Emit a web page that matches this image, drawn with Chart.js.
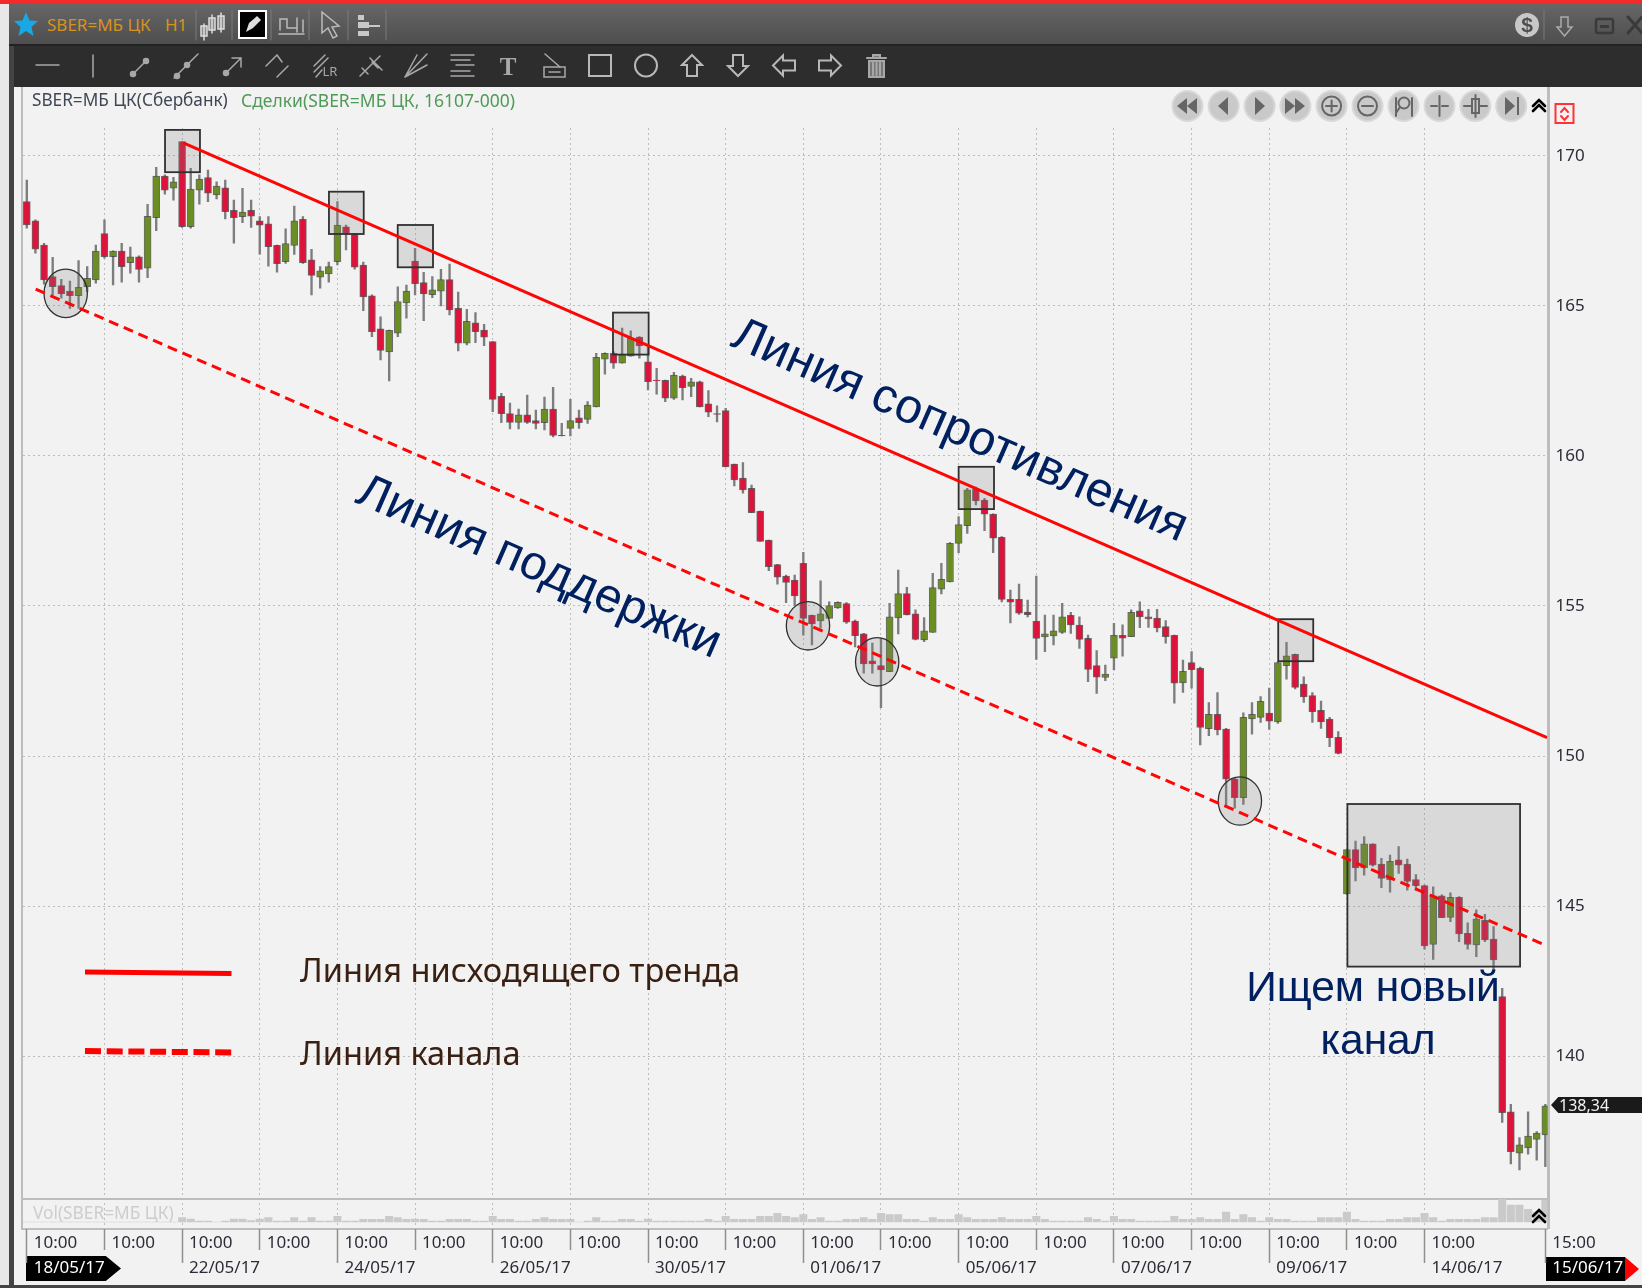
<!DOCTYPE html>
<html lang="ru"><head><meta charset="utf-8"><title>SBER</title>
<script src="https://cdn.jsdelivr.net/npm/chart.js@4"></script>
<style>
html,body{margin:0;padding:0;width:1642px;height:1288px;overflow:hidden;background:#f2f2f2}
.abs{position:absolute}
#stage{position:absolute;left:0;top:0;width:1642px;height:1288px;overflow:hidden;font-family:"Noto Sans",sans-serif}
canvas{position:absolute;left:0;top:0}
.note{position:absolute;white-space:nowrap;font-family:"Liberation Sans",Arial,sans-serif;color:#002060;transform-origin:center}
.rot{transform:translate(-50%,-50%) rotate(23.6deg)}
.legend{position:absolute;white-space:nowrap;font-family:"Noto Sans",sans-serif;color:#3a2012;font-size:32.6px;line-height:40px}
</style></head><body>
<div id="stage">
  <div class="abs" style="left:0;top:0;width:9px;height:1288px;background:#e8e8e8"></div>
  <div class="abs" style="left:9px;top:4px;width:5px;height:1284px;background:#444"></div>
  <div class="abs" style="left:21px;top:87px;width:2px;height:1142px;background:#bdbdbd"></div>
  <div class="abs" style="left:1547px;top:87px;width:3px;height:1142px;background:#bdbdbd"></div>
  <div class="abs" style="left:21px;top:1198px;width:1527px;height:2px;background:#bdbdbd"></div>
  <div class="abs" style="left:21px;top:1228px;width:1527px;height:2px;background:#bdbdbd"></div>
  <div class="abs" style="left:0;top:1285px;width:1642px;height:3px;background:#444"></div>
  <!-- date and price tags under the canvas -->
  <div class="abs" style="left:26px;top:1256px;width:95px;height:25px;background:#000;clip-path:polygon(0 0,84% 0,100% 50%,84% 100%,0 100%)"></div>
  <div class="abs" style="left:1546px;top:1257px;width:79px;height:24px;background:#000"></div>
  <div class="abs" style="left:1625px;top:1257px;width:14px;height:24px;background:#f00;clip-path:polygon(0 0,100% 50%,0 100%)"></div>
  <div class="abs" style="left:1551px;top:1097px;width:91px;height:16px;background:#1a1a1a;clip-path:polygon(8% 0,100% 0,100% 100%,8% 100%,0 50%)"></div>
  <canvas id="chart" width="1642" height="1288"></canvas>

  <!-- window chrome -->
  <div class="abs" style="left:0;top:0;width:1642px;height:4px;background:#f22a2a"></div>
  <div class="abs" style="left:9px;top:4px;width:1633px;height:40px;background:linear-gradient(#666,#4e4e4e)"></div>
  <div class="abs" style="left:9px;top:44px;width:1633px;height:2px;background:#222"></div>
  <div class="abs" style="left:14px;top:46px;width:1628px;height:41px;background:#2d2d2d"></div>
  <div class="abs" style="left:47px;top:12px;font-size:17px;line-height:26px;color:#d8921e">SBER=МБ ЦК</div>
  <div class="abs" style="left:165px;top:12px;font-size:17px;line-height:26px;color:#d8921e">H1</div>
  <div class="abs" style="left:32px;top:88px;font-size:17.2px;line-height:24px;color:#3f4654">SBER=МБ ЦК(Сбербанк)</div>
  <div class="abs" style="left:241px;top:88px;font-size:17.5px;line-height:24px;color:#4f9a57">Сделки(SBER=МБ ЦК, 16107-000)</div>
  <div class="abs" style="left:33px;top:1201px;font-size:17.3px;line-height:24px;color:#cdcdcd">Vol(SBER=МБ ЦК)</div>
  <div class="abs" id="lastTag" style="left:1559px;top:1094px;font-size:16px;line-height:22px;color:#f2f2f2"></div>

  <svg class="abs" style="left:0;top:0" width="1642" height="1288" fill="none" stroke-linecap="round">
    <polygon points="26,12 29.5,20.5 38,21 31.5,27 33.5,36 26,31 18.5,36 20.5,27 14,21 22.5,20.5" fill="#18a8e6"/>
    <g stroke="#7a7a7a" stroke-width="1"><path d="M196 10V40M232 10V40M271 10V40M309 10V40M348 10V40M386 10V40M1544 10V40"/></g>
    <g stroke="#ddd" stroke-width="1.5" fill="#8d8d8d">
      <rect x="201" y="26" width="6" height="10"/><rect x="209" y="18" width="6" height="12"/><rect x="218" y="16" width="6" height="13"/>
      <path d="M204 24V40M212 15V33M221 13V32"/></g>
    <rect x="239" y="11" width="27" height="27" fill="#000" stroke="#fff" stroke-width="2"/>
    <path d="M246 32l3-9 8-7 4 4-8 8z" fill="#ddd"/>
    <g stroke="#bbb" stroke-width="1.5"><path d="M279 34H304M280 30V19H287V28M288 28H297V32M297 28V18M303 20V32"/></g>
    <path d="M322 12L322 33 328 28 333 38 337 36 332 27 339 26Z" stroke="#bbb" stroke-width="1.5"/>
    <g fill="#c8c8c8"><rect x="358" y="15" width="6" height="5"/><rect x="358" y="22" width="11" height="6"/><rect x="358" y="31" width="11" height="5"/><rect x="369" y="25" width="11" height="2"/></g>
    <circle cx="1527" cy="25" r="12" fill="#c8c8c8"/>
    <text x="1527" y="32" font-family="Liberation Sans" font-weight="bold" font-size="21" fill="#4e4e4e" stroke="none" text-anchor="middle">$</text>
    <path d="M1561 17H1568V27H1572L1564.5 36 1557 27H1561Z" stroke="#aaa" stroke-width="1.5"/>
    <rect x="1596" y="19" width="17" height="14" rx="2" stroke="#3a3a3a" stroke-width="2.5"/><rect x="1600" y="25" width="9" height="3" fill="#3a3a3a"/>
    <path d="M1628 17L1642 33M1642 17L1628 33" stroke="#3a3a3a" stroke-width="3"/>

    <g stroke="#a8a8a8" stroke-width="1.5">
      <path d="M36 65H59M93 55V77"/>
      <path d="M133 74L146 61"/><circle cx="133" cy="74" r="2.5" fill="#a8a8a8"/><circle cx="146" cy="61" r="2.5" fill="#a8a8a8"/>
      <path d="M174 78L198 54"/><circle cx="177" cy="76" r="2.5" fill="#a8a8a8"/><circle cx="187" cy="65" r="2.5" fill="#a8a8a8"/>
      <path d="M226 73L240 59M232 58H241V67"/><circle cx="226" cy="73" r="2.5" fill="#a8a8a8"/>
      <path d="M266 66L277 55M277 55L282 62M277 77L288 66"/>
      <path d="M314 66L325 55M314 72L328 58M316 77L322 70"/>
      <path d="M360 76L380 56M362 68L368 74M370 58L382 70M372 62L378 68"/>
      <path d="M405 77L427 54M405 77L427 65M405 77L417 55"/>
      <path d="M451 55H474M451 60H470M456 65H474M451 71H470M451 76H474"/>
      <path d="M545 54L560 67"/><rect x="544" y="67" width="21" height="10"/>
      <path d="M549 72H560" stroke-dasharray="2 1"/>
    </g>
    <text x="330" y="76" font-family="Noto Sans" font-size="13" fill="#a8a8a8" stroke="none" text-anchor="middle">LR</text>
    <text x="508" y="75" font-family="Liberation Serif" font-weight="bold" font-size="25" fill="#a8a8a8" stroke="none" text-anchor="middle">T</text>
    <g stroke="#b8b8b8" stroke-width="2">
      <rect x="589" y="55" width="22" height="21"/><circle cx="646" cy="65.5" r="11"/>
      <path d="M692 55L702 65H697V76H687V65H682Z"/><path d="M738 76L748 66H743V55H733V66H728Z"/>
      <path d="M773 65.5L783 55.5V60.5H795V70.5H783V75.5Z"/><path d="M841 65.5L831 55.5V60.5H819V70.5H831V75.5Z"/>
    </g>
    <path d="M867 58H886M873 58V55H880V58M869 61H884V77H869ZM873 63V75M876.5 63V75M880 63V75" stroke="#a8a8a8" stroke-width="2" fill="#777"/>

    <g fill="#c9c9c9" stroke="#d8d8d8" stroke-width="2"><circle cx="1187.5" cy="106" r="15"/><circle cx="1223.7" cy="106" r="15"/><circle cx="1259.6" cy="106" r="15"/><circle cx="1295.4" cy="106" r="15"/><circle cx="1331.6" cy="106" r="15"/><circle cx="1367.5" cy="106" r="15"/><circle cx="1403.6" cy="106" r="15"/><circle cx="1439.5" cy="106" r="15"/><circle cx="1475.3" cy="106" r="15"/><circle cx="1511.2" cy="106" r="15"/></g>
    <g fill="#666">
      <path d="M1177 106L1187 98V114ZM1187 106L1197 98V114Z"/><path d="M1218 106L1228 97V115Z"/><path d="M1255 97L1265 106 1255 115Z"/>
      <path d="M1285 98L1295 106 1285 114ZM1295 98L1305 106 1295 114Z"/>
      <path d="M1505 97L1515 106 1505 115Z"/><rect x="1517" y="97" width="2" height="18"/>
    </g>
    <g stroke="#666" stroke-width="2">
      <circle cx="1331.6" cy="106" r="9.5"/><path d="M1326 106H1337M1331.6 100.5V111.5"/>
      <circle cx="1367.5" cy="106" r="9.5"/><path d="M1362 106H1373"/>
      <circle cx="1404" cy="103" r="5.5"/><path d="M1396 98V116M1412 98V116M1400 107L1396 113"/>
      <path d="M1439.5 96V116M1431 106H1437M1442 106H1448"/>
      <rect x="1472" y="99" width="7" height="14"/><path d="M1475.5 95V117M1464 106H1471M1480 106H1487"/>
    </g>
    <g stroke="#000" stroke-width="2.6"><path d="M1533 106L1539 100 1545 106M1533 111L1539 105 1545 111"/><path d="M1533 1216L1539 1210 1545 1216M1533 1222L1539 1216 1545 1222"/></g>
    <rect x="1555.5" y="104" width="18" height="19" stroke="#f33" stroke-width="2"/>
    <path d="M1561 112L1564.5 108 1568 112M1561 116L1564.5 120 1568 116" stroke="#f33" stroke-width="2"/>

    <!-- legend samples -->
    <path d="M85 972L231.5 973.5" stroke="#ff0000" stroke-width="5" stroke-linecap="butt"/>
    <path d="M85 1051L231.5 1052.5" stroke="#ff0000" stroke-width="6" stroke-linecap="butt" stroke-dasharray="16 5.7"/>
  </svg>

  <div class="legend" id="legA" style="left:300px;top:950px">Линия нисходящего тренда</div>
  <div class="legend" id="legB" style="left:300px;top:1033px">Линия канала</div>
  <div class="note rot" style="left:961px;top:428px;font-size:48.4px">Линия сопротивления</div>
  <div class="note rot" style="left:540px;top:565px;font-size:48px">Линия поддержки</div>
  <div class="note" style="left:1373px;top:987px;font-size:42.5px;transform:translate(-50%,-50%)">Ищем новый</div>
  <div class="note" style="left:1378px;top:1040px;font-size:42.5px;transform:translate(-50%,-50%)">канал</div>
</div>
<script>
// Hourly candles (rubles)
const opens = [
168.48,167.84,167.03,165.98,165.68,165.50,165.34,165.64,165.87,167.41,
166.64,166.83,166.44,166.64,166.26,167.94,169.33,168.93,170.48,167.64,
168.86,169.28,168.70,168.94,168.19,167.98,168.19,167.84,167.74,167.02,
166.48,167.02,167.89,166.54,165.96,166.07,166.48,167.64,167.39,166.36,
165.34,164.24,163.47,164.09,165.10,166.50,165.78,165.38,165.49,165.88,
164.92,163.76,164.44,164.20,163.81,161.99,161.41,161.12,161.37,161.18,
161.11,161.56,160.69,160.92,161.27,161.22,161.64,163.23,163.42,163.09,
163.33,163.96,163.14,162.53,162.52,161.93,162.66,162.32,162.47,161.74,
161.41,161.51,159.73,159.26,158.92,158.16,157.20,156.38,156.00,155.86,
156.42,154.69,154.50,154.59,154.94,155.08,154.50,154.07,153.17,153.01,
152.81,154.60,155.41,154.74,153.87,154.12,155.56,155.80,157.09,157.68,
158.90,158.53,158.06,157.29,155.22,155.22,154.80,154.50,153.97,154.00,
154.12,154.69,154.36,153.92,153.01,152.62,153.26,154.02,153.98,154.84,
154.64,154.60,154.31,154.02,152.44,153.11,152.92,150.91,151.39,150.90,
149.23,148.61,151.24,151.29,151.43,151.14,153.01,153.39,152.40,152.01,
151.52,151.23,150.62,145.40,146.88,146.27,147.07,146.40,145.87,146.54,
146.40,145.88,145.68,143.72,145.34,144.62,145.29,144.09,143.70,144.52,
143.90,141.98,138.14,136.76,136.94,137.22,137.37];
const highs = [
169.20,167.87,167.09,166.62,165.89,165.83,166.51,166.31,167.03,167.87,
166.84,167.09,166.96,166.67,168.39,169.62,169.37,169.29,170.48,169.59,
169.37,169.53,169.14,169.20,168.53,168.92,168.53,167.98,167.98,167.03,
167.57,168.33,167.98,166.89,166.31,166.46,168.48,167.70,167.42,166.46,
165.37,164.64,164.20,165.64,165.70,166.92,166.12,165.98,166.22,166.40,
165.46,164.89,164.78,164.39,163.81,162.09,161.76,161.56,162.03,161.53,
161.96,162.29,161.09,161.89,161.53,161.81,163.42,163.44,163.48,164.26,
164.17,163.98,163.64,162.92,162.53,162.79,162.70,162.59,162.50,162.18,
161.67,161.59,159.73,159.78,159.03,158.16,157.20,156.39,156.03,156.03,
156.79,154.70,155.84,155.14,155.14,155.11,154.53,154.09,153.76,153.92,
155.09,156.20,155.62,154.87,154.61,156.09,156.42,157.11,157.98,158.92,
158.96,158.59,158.07,157.31,155.53,155.73,155.20,156.00,154.70,154.70,
155.09,154.79,154.64,154.03,153.51,153.03,154.42,154.37,154.87,155.14,
154.89,154.89,154.51,154.03,153.20,153.48,152.96,151.78,152.11,150.92,
149.26,151.44,151.78,151.98,152.26,153.14,153.79,153.40,152.64,152.11,
151.83,151.29,150.81,146.88,147.16,147.31,147.07,146.59,146.70,146.98,
146.56,146.05,145.70,145.64,145.37,145.44,145.31,144.44,144.87,144.72,
144.31,142.26,138.39,137.28,138.14,137.48,138.39];
const lows = [
167.59,166.76,165.73,165.37,165.26,164.92,164.92,165.48,165.76,166.59,
165.70,165.79,166.09,165.79,165.94,167.51,168.73,168.53,167.62,167.59,
168.39,168.48,168.57,167.90,167.09,167.78,167.62,166.73,166.33,166.13,
166.42,166.72,166.42,165.37,165.59,165.79,166.37,166.87,166.23,164.84,
163.98,163.20,162.50,163.98,164.59,165.37,164.51,165.28,165.00,164.70,
163.50,163.70,163.78,163.68,161.48,161.11,160.90,160.90,161.09,160.90,
160.87,160.64,160.67,160.67,160.92,161.09,161.64,162.73,162.92,163.09,
163.33,163.26,162.20,162.06,161.81,161.89,161.87,161.98,161.64,161.31,
161.14,159.64,159.00,158.76,158.11,157.15,156.18,155.73,155.11,155.03,
154.03,153.70,154.26,154.59,154.92,154.42,153.64,152.76,152.76,151.61,
152.81,154.07,154.70,153.87,153.81,154.12,155.40,155.80,156.78,157.42,
158.37,157.51,156.78,155.14,154.44,154.72,154.64,153.22,153.48,153.70,
154.09,154.09,153.59,152.48,152.09,152.51,152.87,153.33,153.98,154.28,
154.29,154.14,153.76,151.76,152.12,152.26,150.37,150.68,150.70,148.33,
148.26,148.39,150.73,151.12,150.89,151.09,152.56,152.24,151.79,151.12,
150.92,150.31,150.07,145.39,145.84,146.03,146.33,145.61,145.46,146.09,
145.53,145.53,143.56,143.22,144.61,144.48,143.81,143.56,143.31,143.81,
142.80,137.79,136.40,136.20,136.73,136.53,136.31];
const closes = [
167.70,166.89,165.87,165.64,165.40,165.34,165.62,165.92,166.83,166.64,
166.83,166.31,166.64,166.22,167.99,169.33,168.86,169.14,167.64,168.90,
169.23,168.76,169.00,168.14,167.94,168.13,167.99,167.69,166.98,166.41,
167.08,167.84,166.44,166.02,166.17,166.31,167.70,167.42,166.29,165.30,
164.14,163.52,164.19,165.15,165.50,165.74,165.40,165.54,165.88,164.87,
163.76,164.49,164.14,163.96,161.89,161.41,161.12,161.37,161.12,161.09,
161.56,160.69,160.67,161.18,161.11,161.70,163.29,163.42,163.09,163.37,
163.92,163.67,162.48,162.51,161.93,162.70,162.28,162.47,161.64,161.46,
161.39,159.64,159.20,158.87,158.11,157.15,156.31,155.96,155.79,155.34,
154.59,154.40,154.74,155.01,155.12,154.46,154.01,153.07,153.07,152.87,
154.64,155.41,154.70,153.89,154.17,155.61,155.89,157.09,157.71,158.87,
158.50,158.06,157.26,155.22,155.13,154.76,154.71,153.92,154.07,154.17,
154.64,154.37,153.89,152.89,152.63,152.73,154.02,153.93,154.79,154.64,
154.57,154.27,153.98,152.43,152.82,152.88,150.95,151.39,150.87,149.23,
148.61,151.29,151.39,151.82,151.16,153.11,153.34,152.29,151.97,151.48,
151.14,150.61,150.09,146.88,146.27,147.07,146.36,145.92,146.49,146.36,
145.82,145.68,143.67,145.34,144.61,145.29,144.07,143.72,144.57,143.87,
143.20,138.11,136.81,137.04,137.33,137.43,138.34];
const volumes = [
0,0,0,0,0,0,0,0,0,0,
0,0,0,0,0,0,0,0,4.3,3,
1,1,0,1,3,3,1.3,3,4.3,1,
1,4.3,1,4.3,1,1,5.7,1,1,2.7,
2.7,2.7,5.7,4.3,2.7,3,2.7,1,1,2.7,
2.7,2.7,1,1,5.7,2.7,2.7,1,1,2.7,
4.3,2.7,2.7,2.7,0,1,4.3,1,1,2.7,
2.7,1,3,1,1,1,1,1,1,2.7,
1,5.7,2.7,2.7,2.7,5.7,5.7,8.7,5.7,4.3,
7.3,2.7,4.3,1,1,2.7,2.7,4.3,2.7,8.7,
7.3,7.3,2.7,2.7,1,4.3,2.7,2.7,7.3,4.3,
2.7,2.7,2.7,4.3,2.7,2.7,2.7,5.7,2.7,1,
1,1,1,4.3,2.7,1,5.7,2.7,2.7,1,
1,1,1,5.7,2.7,2.7,4.3,2.7,2.7,10,
2.7,7.3,4.3,1,4.3,2.7,2.7,1,1,1,
4.3,4.3,4.3,10,2.7,1,1,1,2.7,2.7,
4.3,4.3,8.7,4.3,1,2.7,2.7,2.7,2.7,4.3,
4.3,22.7,17,17,12.7,10,22];

// Axes
const priceTicks = [140,145,150,155,160,165,170];
const timeTicks = [0,9,18,27,36,45,54,63,72,81,90,99,108,117,126,135,144,153,162,176];
const timeLabels = ["10:00","10:00","10:00","10:00","10:00","10:00","10:00","10:00","10:00","10:00","10:00","10:00","10:00","10:00","10:00","10:00","10:00","10:00","10:00","15:00"];
const dateTicks = [0,18,36,54,72,90,108,126,144,162,176];
const dateLabels = ["18/05/17","22/05/17","24/05/17","26/05/17","30/05/17","01/06/17","05/06/17","07/06/17","09/06/17","14/06/17","15/06/17"];

// Trend lines: bar index and price at both ends
const resistanceX = [18.14,176.2];
const resistanceY = [170.44,150.61];
const channelX = [1.03,176.2];
const channelY = [165.56,143.67];

// Highlight zones in bar index / price units
const zoneBoxes = [[16.02,20.07,170.87,169.46],[35.02,39.05,168.81,167.40],[42.99,47.08,167.70,166.29],[67.94,72.07,164.78,163.38],[108.0,112.1,159.64,158.23],[145.04,149.1,154.56,153.16],[153.06,173.07,148.40,142.98]];
const zoneRings = [[4.51,165.42],[90.54,154.34],[98.56,153.14],[140.6,148.5]];
const ringSpanBars = 2.51;
const ringSpanPrice = 0.807;

const RED='#dc143c', GREEN='#6b8e23', TICK='#2c2c38', FONT={family:'"Noto Sans"',size:17};
const idx = opens.map((_,i)=>i);
const bodyColors = idx.map(i=>closes[i]>=opens[i]?GREEN:RED);
const pair=(xs,ys)=>xs.map((x,i)=>({x,y:ys[i]}));

const zones={id:'zones',afterDatasetDraw(chart,args){
  if(args.meta.label!=='Свечи')return;
  const {ctx,scales:{x,y}}=chart;
  ctx.save();
  ctx.fillStyle='rgba(128,128,128,0.22)';ctx.strokeStyle='#303030';ctx.lineWidth=1.8;
  zoneBoxes.forEach(([a,b,t,l])=>{const X=x.getPixelForValue(a),Y=y.getPixelForValue(t);
    const W=x.getPixelForValue(b)-X,H=y.getPixelForValue(l)-Y;ctx.fillRect(X,Y,W,H);ctx.strokeRect(X,Y,W,H);});
  ctx.lineWidth=1.3;
  zoneRings.forEach(([a,p])=>{const X=x.getPixelForValue(a),Y=y.getPixelForValue(p);
    const rx=x.getPixelForValue(a+ringSpanBars)-X,ry=y.getPixelForValue(p-ringSpanPrice)-Y;
    ctx.beginPath();ctx.ellipse(X,Y,rx,ry,0,0,Math.PI*2);ctx.fill();ctx.stroke();});
  ctx.restore();
}};

new Chart(document.getElementById('chart'),{
  type:'bar',
  plugins:[zones],
  data:{datasets:[
    {label:'Объём',yAxisID:'yVol',xAxisID:'x',grouped:false,order:9,data:pair(idx,volumes),backgroundColor:'#cacaca',barThickness:7.4},
    {label:'Тени',yAxisID:'y',xAxisID:'x',grouped:false,order:8,data:idx.map(i=>({x:i,y:[lows[i],highs[i]]})),backgroundColor:'#7d7d7d',barThickness:1.7},
    {label:'Свечи',yAxisID:'y',xAxisID:'x',grouped:false,order:7,data:idx.map(i=>({x:i,y:[opens[i],closes[i]]})),backgroundColor:bodyColors,borderColor:'rgba(60,60,60,0.75)',borderWidth:1,borderSkipped:false,barThickness:7},
    {type:'line',label:'Линия нисходящего тренда',yAxisID:'y',xAxisID:'x',order:2,data:pair(resistanceX,resistanceY),borderColor:'#ff0505',borderWidth:3,pointRadius:0,tension:0},
    {type:'line',label:'Линия канала',yAxisID:'y',xAxisID:'x',order:1,data:pair(channelX,channelY),borderColor:'#ff0505',borderWidth:3,borderDash:[10,6],pointRadius:0,tension:0}
  ]},
  options:{
    responsive:false,animation:false,
    layout:{padding:{left:23,top:128,right:0,bottom:0}},
    plugins:{legend:{display:false},tooltip:{enabled:false},title:{display:false}},
    scales:{
      x:{type:'linear',position:'bottom',weight:0,min:-0.44,max:176.25,offset:false,
        afterBuildTicks(s){s.ticks=timeTicks.map(v=>({value:v}));},
        afterFit(s){s.height=21;},
        border:{display:false,dash:[2,3]},
        grid:{offset:false,color:c=>(c.index===0||c.index===timeTicks.length-1)?'rgba(0,0,0,0)':'#bcbcbc',lineWidth:1,tickLength:21,tickColor:'#8f8f8f',tickWidth:1.5},
        ticks:{autoSkip:false,maxRotation:0,align:'start',labelOffset:7,padding:-17.2,color:TICK,font:FONT,
          callback:v=>timeLabels[timeTicks.indexOf(v)]}},
      xDate:{type:'linear',axis:'x',position:'bottom',weight:1,min:-0.44,max:176.25,offset:false,
        afterBuildTicks(s){s.ticks=dateTicks.map(v=>({value:v}));},
        afterFit(s){s.height=38;},
        border:{display:false},
        grid:{offset:false,drawOnChartArea:false,tickLength:13,tickColor:'#8f8f8f',tickWidth:1.5},
        ticks:{autoSkip:false,maxRotation:0,align:'start',labelOffset:7,padding:-5.2,font:FONT,
          color:c=>(c.index===0||c.index===dateTicks.length-1)?'#ffffff':TICK,
          callback:v=>dateLabels[dateTicks.indexOf(v)]}},
      y:{type:'linear',position:'right',stack:'panes',stackWeight:1070,min:135.267,max:170.933,
        afterBuildTicks(s){s.ticks=priceTicks.map(v=>({value:v}));},
        afterFit(s){s.width=94.5;},
        border:{display:false,dash:[2,3]},
        grid:{color:'#bcbcbc',lineWidth:1,drawTicks:false},
        ticks:{autoSkip:false,padding:8,color:TICK,font:FONT,callback:v=>String(v)}},
      yVol:{type:'linear',position:'right',stack:'panes',stackWeight:31,min:-7,max:24,
        afterFit(s){s.width=94.5;},
        border:{display:false},grid:{display:false,drawTicks:false},ticks:{display:false}}
    }
  }
});
document.getElementById('lastTag').textContent=closes[closes.length-1].toFixed(2).replace('.',',');
</script>
</body></html>
